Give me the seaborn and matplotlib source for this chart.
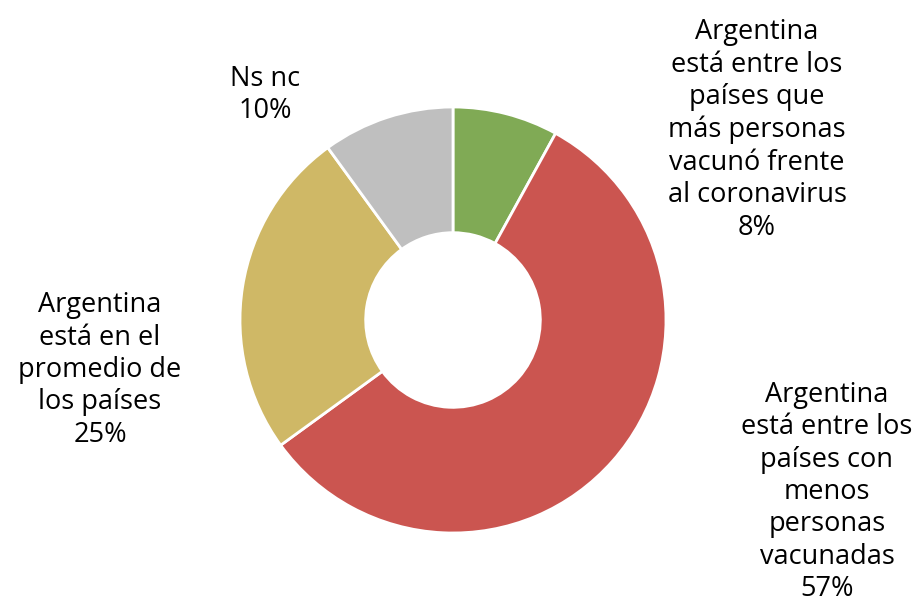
import seaborn as sns
import matplotlib.pyplot as plt

categories = [
    "Argentina\nestá entre los\npaíses que\nmás personas\nvacunó frente\nal coronavirus",
    "Argentina\nestá entre los\npaíses con\nmenos\npersonas\nvacunadas",
    "Argentina\nestá en el\npromedio de\nlos países",
    "Ns nc",
]
values = [8, 57, 25, 10]
colors = ["#80AA55", "#CB5550", "#CFB866", "#BFBFBF"]

sns.set_theme(style="white")
plt.rcParams['font.family'] = ['Open Sans', 'DejaVu Sans']

W, H = 914, 607
cx, cy, R = 453, 320, 213
fig = plt.figure(figsize=(W / 100, H / 100), dpi=100)
ax = fig.add_axes([0, 0, 1, 1])

ax.pie(values, colors=colors, startangle=90, counterclock=False, radius=1,
       wedgeprops=dict(width=0.59, edgecolor="white", linewidth=2))

ax.set_xlim(-cx / R, (W - cx) / R)
ax.set_ylim(-(H - cy) / R, cy / R)
ax.set_aspect("equal")
ax.axis("off")

# label centres in pixels
label_pos = [(757, 130), (827, 492), (100, 370), (265, 95)]
for cat, val, (px, py) in zip(categories, values, label_pos):
    ax.text((px - cx) / R, (cy - py) / R, f"{cat}\n{val}%", ha="center", va="center",
            fontsize=19.5, linespacing=1.21, color="black")

fig.savefig("out.png", dpi=100)
